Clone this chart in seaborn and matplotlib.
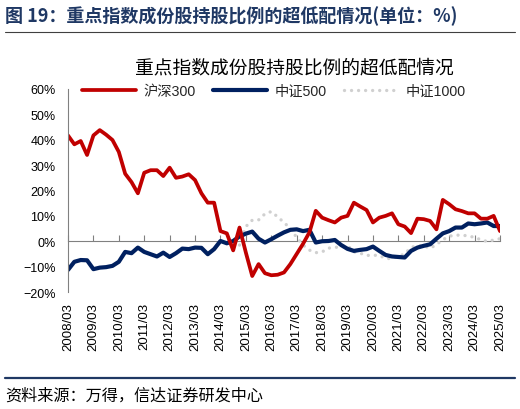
import numpy as np
import pandas as pd
import matplotlib
matplotlib.use('Agg')
import matplotlib.pyplot as plt
from matplotlib.lines import Line2D
import seaborn as sns

# quarterly periods 2008/03 .. 2025/03
periods = [f'{y}/{m:02d}' for y in range(2008, 2026) for m in (3, 6, 9, 12)][:69]

# over/under-weight ratio, %
hs300 = [41.7, 38.2, 39.5, 34.0, 41.7, 43.8, 42.0, 39.9, 35.2, 26.6,
         23.3, 18.9, 27.0, 28.0, 28.0, 25.7, 29.0, 25.0, 25.5, 26.4,
         24.1, 18.9, 15.2, 15.2, 4.0, 3.1, -3.6, 5.4, -4.5, -13.7,
         -9.0, -12.6, -13.4, -13.2, -12.3, -9.0, -5.0, -1.0, 3.5, 12.0,
         9.3, 8.3, 7.4, 9.3, 10.0, 15.2, 13.7, 12.3, 7.4, 9.3,
         10.0, 11.0, 6.7, 5.8, 3.2, 8.9, 8.7, 8.0, 4.7, 16.3,
         14.6, 12.6, 11.9, 11.0, 11.0, 8.9, 8.9, 10.0, 4.0]
zz500 = [-11.3, -8.1, -7.4, -7.5, -11.0, -10.4, -10.2, -9.7, -8.1, -4.2,
         -4.7, -2.5, -4.2, -5.1, -6.0, -4.5, -6.2, -4.7, -2.9, -3.1,
         -2.5, -2.6, -5.1, -3.1, 0.1, -0.8, 0.1, 1.9, 3.0, 3.8,
         1.0, -0.5, 0.8, 2.2, 3.5, 4.5, 4.7, 4.0, 4.5, -0.5,
         0.0, 0.1, 0.5, -1.5, -3.0, -3.8, -3.4, -3.1, -2.1, -3.8,
         -5.4, -6.0, -6.2, -6.4, -3.8, -2.5, -1.8, -1.2, 1.0, 3.1,
         4.0, 5.4, 5.4, 7.0, 6.7, 7.0, 7.4, 6.0, 6.0]
zz1000 = [np.nan] * 27 + [
         -1.5, 5.8, 8.3, 8.4, 10.8, 11.7, 9.6, 7.4, 5.0, 1.5,
         -1.5, -3.5, -4.5, -4.2, -2.7, -2.5, -2.0, -1.7, -4.2, -4.7,
         -5.6, -5.5, -5.6, -6.8, -6.8, -6.0, -5.0, -2.4, -1.8, -1.7,
         -2.8, -1.3, 0.6, 2.0, 2.4, 2.4, 2.1, 1.5, 0.6, -0.1,
         0.5, 1.0]

series_names = ['沪深300', '中证500', '中证1000']
series_colors = ['#C00000', '#002060', '#D0D0D0']
ytick_vals = [-20, -10, 0, 10, 20, 30, 40, 50, 60]
ytick_labels = ['−20%', '−10%', '0%', '10%', '20%', '30%', '40%', '50%', '60%']

df = pd.DataFrame({'period': periods, 'pos': np.arange(len(periods)),
                   '沪深300': hs300, '中证500': zz500, '中证1000': zz1000})

sns.set_style('white')
plt.rcParams['font.family'] = ['Liberation Sans', 'Noto Sans CJK SC']

W, H = 520, 410
fig = plt.figure(figsize=(W / 100, H / 100), dpi=100)
ax = fig.add_axes([68 / W, 117 / H, 432 / W, 203 / H])

# grey dotted first so the solid lines sit on top
sns.lineplot(data=df, x='pos', y='中证1000', ax=ax, color=series_colors[2], lw=2.4,
             linestyle=(0, (0.01, 2.1)), dash_capstyle='round', label='中证1000')
sns.lineplot(data=df, x='pos', y='中证500', ax=ax, color=series_colors[1], lw=3.0,
             label='中证500')
sns.lineplot(data=df, x='pos', y='沪深300', ax=ax, color=series_colors[0], lw=2.7,
             label='沪深300')

ax.set_xlabel('')
ax.set_ylabel('')
ax.set_ylim(-20, 60)
ax.set_xlim(df['pos'].iloc[0], df['pos'].iloc[-1])

ax.set_yticks(ytick_vals, ytick_labels)
ax.tick_params(axis='y', direction='in', length=3, width=0.8, color='#808080',
               pad=9, labelsize=9, labelcolor='black')
ax.set_xticks(df['pos'][::4], df['period'][::4], rotation=90)
ax.tick_params(axis='x', length=0, pad=7, labelsize=9.5, labelcolor='black')
for s in ['top', 'right', 'bottom']:
    ax.spines[s].set_visible(False)
ax.spines['left'].set_color('#808080')
ax.spines['left'].set_linewidth(0.8)

# zero line with year ticks pointing up
zero_frac = (0 - ax.get_ylim()[0]) / (ax.get_ylim()[1] - ax.get_ylim()[0])
sec = ax.secondary_xaxis(zero_frac)
sec.set_xticks(df['pos'][::4])
sec.tick_params(direction='in', length=4, width=0.8, color='#808080', labelbottom=False)
sec.spines['bottom'].set_color('#808080')
sec.spines['bottom'].set_linewidth(0.8)

handles, labels = ax.get_legend_handles_labels()
order = [labels.index(n) for n in series_names]
ax.legend([handles[i] for i in order], [labels[i] for i in order], ncol=3,
          loc='center left', bbox_to_anchor=(82 / W, 1 - 92 / H),
          bbox_transform=fig.transFigure, frameon=False, borderpad=0,
          borderaxespad=0, handlelength=3.8, handletextpad=0.5,
          columnspacing=1.2, prop={'size': 10.3})

# header / footer
fig.text(5 / W, 1 - 16 / H, '图 19：重点指数成份股持股比例的超低配情况(单位：%)',
         fontsize=13, weight='bold', color='#1F3864', ha='left', va='center',
         family=['Noto Sans CJK SC', 'DejaVu Sans'])
fig.add_artist(Line2D([5 / W, 515 / W], [1 - 33 / H, 1 - 33 / H], color='#404040', lw=0.8))
fig.text(294 / W, 1 - 68 / H, '重点指数成份股持股比例的超低配情况', fontsize=13.5,
         color='black', ha='center', va='center', family=['Noto Sans CJK SC'])
fig.add_artist(Line2D([5 / W, 515 / W], [1 - 379 / H, 1 - 379 / H], color='#1F3864', lw=1.6))
fig.text(5 / W, 1 - 396 / H, '资料来源：万得，信达证券研发中心', fontsize=11.6,
         color='black', ha='left', va='center', family=['Noto Sans CJK SC'])

fig.savefig('out.png', dpi=100)
